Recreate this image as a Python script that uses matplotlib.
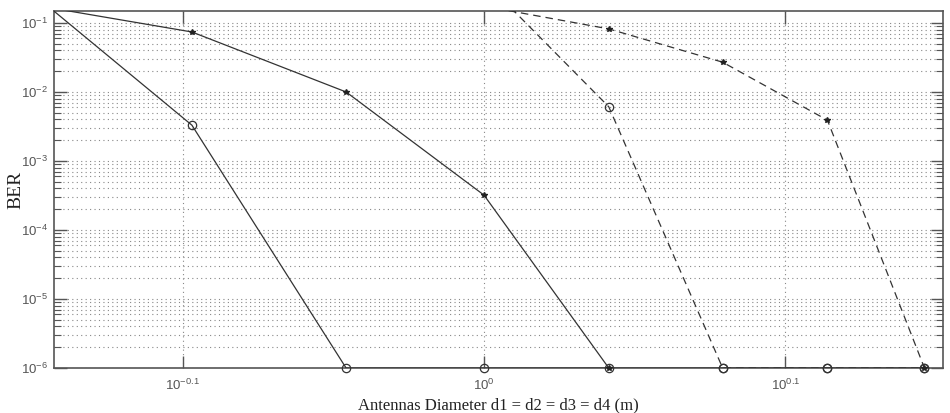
import numpy as np
import matplotlib
matplotlib.use("Agg")
import matplotlib.pyplot as plt
from matplotlib.ticker import FixedLocator, NullLocator, LogLocator, NullFormatter

# Data
x_a = [0.7, 0.8, 0.9, 1.0, 1.1, 1.2, 1.3, 1.4]
ber_a = [0.41, 3.3e-3, 1e-6, 1e-6, 1e-6, 1e-6, 1e-6, 1e-6]     # solid, circles
x_b = [0.7, 0.8, 0.9, 1.0, 1.1]
ber_b = [0.20, 0.074, 0.010, 3.2e-4, 1e-6]                      # solid, stars
x_c = [1.0, 1.1, 1.2, 1.3, 1.4]
ber_c = [0.41, 6.1e-3, 1e-6, 1e-6, 1e-6]                        # dashed, circles
x_d = [1.0, 1.1, 1.2, 1.3, 1.4]
ber_d = [0.175, 0.082, 0.027, 3.9e-3, 1e-6]                     # dashed, stars

xticks = [10 ** -0.1, 10 ** 0, 10 ** 0.1]
xticklabels = [r"$10^{-0.1}$", r"$10^{0}$", r"$10^{0.1}$"]
yticks = [1e-6, 1e-5, 1e-4, 1e-3, 1e-2, 1e-1]
yticklabels = [r"$10^{-6}$", r"$10^{-5}$", r"$10^{-4}$", r"$10^{-3}$", r"$10^{-2}$", r"$10^{-1}$"]
xlim = (0.72, 1.42)
ylim = (1e-6, 0.149)

plt.rcParams['mathtext.default'] = 'regular'
plt.rcParams['font.family'] = ['Liberation Sans', 'DejaVu Sans']

fig = plt.figure(figsize=(9.5, 4.13), dpi=100)
ax = fig.add_axes([54 / 950, 45 / 413, 889 / 950, 357 / 413])
ax.set_xscale('log')
ax.set_yscale('log')

lc = '#333333'
series = [
    (x_a, ber_a, '-', 'o'),
    (x_b, ber_b, '-', '*'),
    (x_c, ber_c, (0, (6, 4)), 'o'),
    (x_d, ber_d, (0, (6, 4)), '*'),
]
for xs, ys, ls, mk in series:
    ax.plot(xs, ys, linestyle=ls, color=lc, linewidth=0.9, zorder=3)
    xs_arr = np.array(xs)
    ys_arr = np.array(ys)
    m = (ys_arr <= ylim[1]) & (ys_arr >= ylim[0])
    if mk == 'o':
        ax.plot(xs_arr[m], ys_arr[m], linestyle='none', marker='o', markersize=6,
                markerfacecolor='none', markeredgecolor=lc, markeredgewidth=0.9,
                clip_on=False, zorder=4)
    else:
        ax.plot(xs_arr[m], ys_arr[m], linestyle='none', marker='*', markersize=4,
                color='#222222', clip_on=False, zorder=5)

ax.set_xlim(*xlim)
ax.set_ylim(*ylim)

ax.xaxis.set_major_locator(FixedLocator(xticks))
ax.xaxis.set_minor_locator(NullLocator())
ax.set_xticklabels(xticklabels)
ax.yaxis.set_major_locator(FixedLocator(yticks))
ax.set_yticklabels(yticklabels)
ax.yaxis.set_minor_locator(LogLocator(base=10, subs=np.arange(2, 10), numticks=20))
ax.yaxis.set_minor_formatter(NullFormatter())

ax.grid(True, which='major', axis='x', linestyle=(0, (1, 3)), color='#888888', linewidth=0.8)
ax.grid(True, which='both', axis='y', linestyle=(0, (1, 3)), color='#888888', linewidth=0.8)

ax.tick_params(axis='both', which='both', direction='in', top=True, right=True,
               colors='#555555', labelcolor='#555555', labelsize=9.5)
ax.tick_params(axis='both', which='major', length=9, width=1)
ax.tick_params(axis='y', which='minor', length=5, width=0.8)
ax.tick_params(axis='x', which='major', pad=7)
ax.tick_params(axis='y', which='major', pad=4)

for s in ax.spines.values():
    s.set_color('#555555')
    s.set_linewidth(1.2)

ax.set_xlabel('Antennas Diameter d1 = d2 = d3 = d4 (m)', family=['Liberation Serif'],
              fontsize=12, color='#222222')
ax.xaxis.set_label_coords(0.5, -29 / 357)
ax.set_ylabel('BER', family=['Liberation Serif'], fontsize=14, color='#222222')
ax.yaxis.set_label_coords(-30 / 889, 0.5)

fig.savefig('out.png', dpi=100)
